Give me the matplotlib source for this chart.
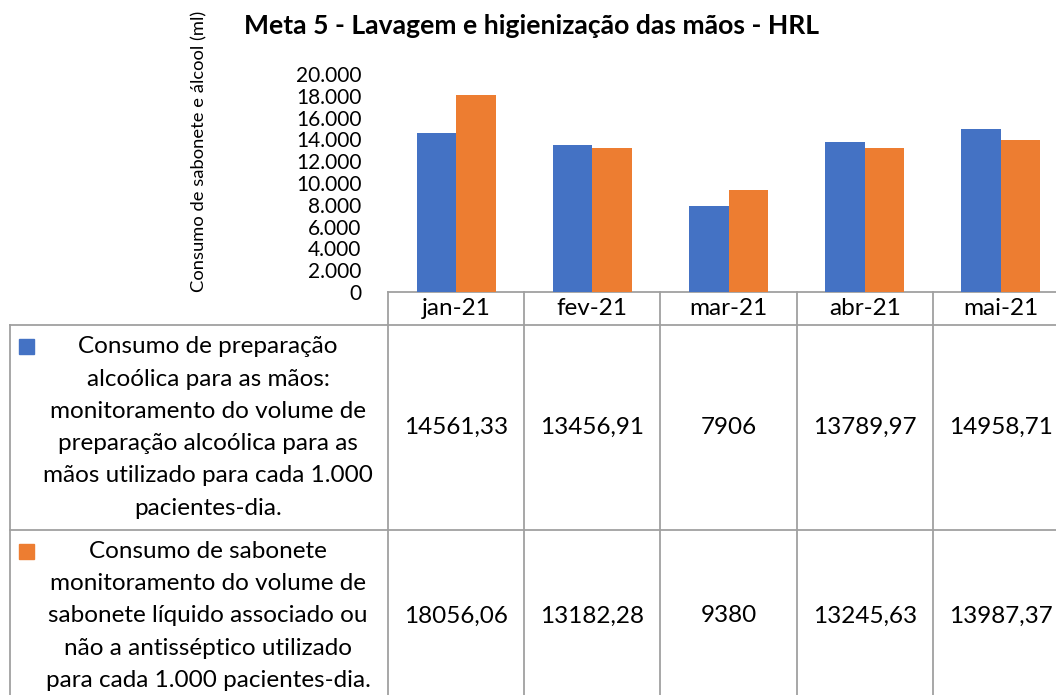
import matplotlib
matplotlib.use("Agg")
import matplotlib.pyplot as plt
from matplotlib.patches import Rectangle
from matplotlib.ticker import FuncFormatter

# ---- data ----
months = ["jan-21", "fev-21", "mar-21", "abr-21", "mai-21"]
alcohol = [14561.33, 13456.91, 7906, 13789.97, 14958.71]
soap = [18056.06, 13182.28, 9380, 13245.63, 13987.37]
series_lines = [
    ["Consumo de preparação", "alcoólica para as mãos:", "monitoramento do volume de",
     "preparação alcoólica para as", "mãos utilizado para cada 1.000", "pacientes-dia."],
    ["Consumo de sabonete", "monitoramento do volume de", "sabonete líquido associado ou",
     "não a antisséptico utilizado", "para cada 1.000 pacientes-dia."],
]
title = "Meta 5 - Lavagem e higienização das mãos - HRL"
ylabel = "Consumo de sabonete e álcool (ml)"
yticks = list(range(0, 20001, 2000))

BLUE = "#4472C4"
ORANGE = "#ED7D31"
GRID = "#A0A0A0"
FONT = "Lato"

W, H = 1056, 695
fig = plt.figure(figsize=(W / 100, H / 100), dpi=100)
plt.rcParams["font.family"] = [FONT, "DejaVu Sans"]


def fx(x):
    return x / W


def fy(y):
    return 1 - y / H


# ---- layout (pixels) ----
col_left, col_w = 388, 136.2
n = len(months)
col_right = col_left + n * col_w
axis_y, top_y = 292, 74
head_bot = 325
row_bots = [530, 702]
table_left = 10

# ---- bar chart ----
ax = fig.add_axes([fx(col_left), fy(axis_y), (col_right - col_left) / W, (axis_y - top_y) / H])
bw = 0.29
xs = list(range(n))
ax.bar([x - bw / 2 for x in xs], alcohol, width=bw, color=BLUE, zorder=2)
ax.bar([x + bw / 2 for x in xs], soap, width=bw, color=ORANGE, zorder=2)
ax.set_xlim(-0.5, n - 0.5)
ax.set_ylim(0, 20000)
ax.set_yticks(yticks)
ax.yaxis.set_major_formatter(FuncFormatter(lambda v, p: f"{int(v):,}".replace(",", ".")))
ax.tick_params(axis="y", length=0, pad=19, labelsize=15)
ax.set_xticks([])
for s in ax.spines.values():
    s.set_visible(False)
ax.patch.set_alpha(0)

# ---- titles ----
fig.text(fx(532), fy(26), title, ha="center", va="center", fontsize=19.1, fontweight="bold")
fig.text(fx(199), fy(151), ylabel, ha="center", va="center", rotation=90, fontsize=13.2)

# ---- data table ----
tab = fig.add_axes([0, 0, 1, 1], zorder=-1)
tab.set_xlim(0, W)
tab.set_ylim(H, 0)
tab.axis("off")

lw = 1.3
tab.plot([col_left, col_right], [axis_y, axis_y], color=GRID, lw=lw)
for yb in [head_bot] + row_bots:
    tab.plot([table_left, col_right], [yb, yb], color=GRID, lw=lw)
tab.plot([table_left, table_left], [head_bot, row_bots[-1]], color=GRID, lw=lw)
for i in range(n + 1):
    xv = col_left + i * col_w
    tab.plot([xv, xv], [axis_y, row_bots[-1]], color=GRID, lw=lw)

fs = 17.5
for i, m in enumerate(months):
    tab.text(col_left + (i + 0.5) * col_w, (axis_y + head_bot) / 2, m,
             ha="center", va="center", fontsize=fs)


def fmt(v):
    if float(v).is_integer():
        return str(int(v))
    return f"{v:.2f}".replace(".", ",")


row_tops = [head_bot, row_bots[0]]
line_h = 32.3
for r, (vals, color, lines) in enumerate(zip([alcohol, soap], [BLUE, ORANGE], series_lines)):
    top, bot = row_tops[r], row_bots[r]
    cy = (top + bot) / 2
    for i, v in enumerate(vals):
        tab.text(col_left + (i + 0.5) * col_w, cy, fmt(v), ha="center", va="center", fontsize=fs)
    tab.add_patch(Rectangle((19, top + 14), 15, 15, color=color))
    k = len(lines)
    for j, line in enumerate(lines):
        tab.text(208, cy + (j - (k - 1) / 2) * line_h, line, ha="center", va="center", fontsize=fs)

fig.savefig("out.png", dpi=100)
